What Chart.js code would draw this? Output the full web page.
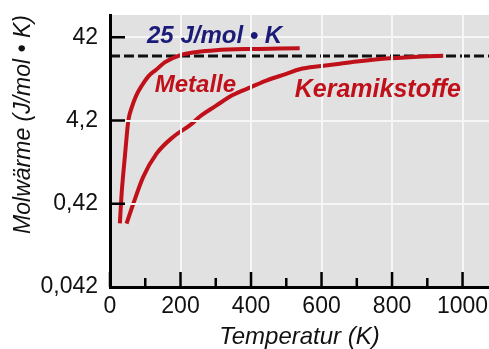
<!DOCTYPE html>
<html><head><meta charset="utf-8">
<script src="https://cdn.jsdelivr.net/npm/chart.js@4/dist/chart.umd.min.js"></script>
<style>html,body{margin:0;padding:0;background:#fff}#wrap{width:489px;height:349px}</style>
</head><body><div id="wrap"><canvas id="c" width="489" height="349"></canvas></div>
<script>
// ---- data ----
const metalleT = [28, 33, 38, 43, 52, 62, 75, 90, 110, 130, 155, 198, 246, 300, 400, 480, 538];
const metalleC = [0.245, 0.56, 1.0, 1.7, 4.2, 6.1, 8.5, 11, 14.5, 17, 21, 25.5, 28, 29.5, 30.5, 30.8, 31];
const keramikT = [47, 66, 94, 132, 179, 227, 255, 300, 348, 400, 445, 500, 538, 600, 652, 700, 793, 887, 945];
const keramikC = [0.243, 0.42, 0.88, 1.68, 2.67, 3.7, 4.7, 6.3, 8.5, 10.6, 12.8, 15.3, 17.4, 19, 20.3, 21.5, 23.5, 24.8, 25.2];
const limitT = [0, 1075];
const limitC = [25, 25];
const yTickValues = [0.042, 0.42, 4.2, 42];
const yTickLabels = ["0,042", "0,42", "4,2", "42"];
const xTickValues = [0, 200, 400, 600, 800, 1000];
const xTickLabels = ["0", "200", "400", "600", "800", "1000"];
const xMinorTickValues = [100, 300, 500, 700, 900];
const labelTexts = ["25 J/mol • K", "Metalle", "Keramikstoffe"];

// ---- styling / placement ----
const RED = '#c0101a';
const NAVY = '#1b1b78';
const FONT = "'Liberation Sans', Arial, Helvetica, sans-serif";
const labelPlacement = [
  {x: 105, y: 35.7, color: NAVY, size: 24},
  {x: 127, y: 9.2, color: RED, size: 24},
  {x: 524, y: 8.1, color: RED, size: 25}
];

const bgPlugin = {
  id: 'bg',
  beforeDraw(chart) {
    const {ctx, chartArea: a} = chart;
    ctx.save();
    ctx.fillStyle = '#e1e1e1';
    ctx.fillRect(a.left, a.top, a.right - a.left, a.bottom - a.top);
    ctx.restore();
  }
};
const tickPlugin = {
  id: 'inwardTicks',
  afterDraw(chart) {
    const {ctx, chartArea: a, scales: {x, y}} = chart;
    ctx.save();
    ctx.strokeStyle = '#000';
    ctx.lineWidth = 2.5;
    ctx.beginPath();
    yTickValues.forEach((v, i) => {
      if (i === 0) return;
      const py = y.getPixelForValue(v);
      ctx.moveTo(a.left, py); ctx.lineTo(a.left + 15, py);
    });
    xTickValues.forEach(v => {
      const px = x.getPixelForValue(v);
      ctx.moveTo(px, a.bottom); ctx.lineTo(px, a.bottom - 15);
    });
    xMinorTickValues.forEach(v => {
      const px = x.getPixelForValue(v);
      ctx.moveTo(px, a.bottom); ctx.lineTo(px, a.bottom - 9);
    });
    ctx.stroke();
    ctx.restore();
  }
};
const textPlugin = {
  id: 'texts',
  afterDraw(chart) {
    const {ctx, scales: {x, y}} = chart;
    ctx.save();
    ctx.textAlign = 'left';
    ctx.textBaseline = 'alphabetic';
    labelTexts.forEach((t, i) => {
      const p = labelPlacement[i];
      ctx.fillStyle = p.color;
      ctx.font = `italic bold ${p.size}px ${FONT}`;
      ctx.fillText(t, x.getPixelForValue(p.x), y.getPixelForValue(p.y));
    });
    ctx.restore();
  }
};

const pts = (xs, ys) => xs.map((v, i) => ({x: v, y: ys[i]}));

new Chart(document.getElementById('c'), {
  type: 'line',
  data: {
    datasets: [
      {label: labelTexts[1], data: pts(metalleT, metalleC), borderColor: RED, borderWidth: 4,
       pointRadius: 0, cubicInterpolationMode: 'monotone', fill: false},
      {label: labelTexts[2], data: pts(keramikT, keramikC), borderColor: RED, borderWidth: 4,
       pointRadius: 0, cubicInterpolationMode: 'monotone', fill: false},
      {label: labelTexts[0], data: pts(limitT, limitC), borderColor: '#111', borderWidth: 3,
       borderDash: [10, 4], pointRadius: 0, fill: false}
    ]
  },
  options: {
    responsive: false, animation: false, devicePixelRatio: 1,
    layout: {padding: {top: 15, left: 0, right: 0, bottom: 0}, autoPadding: false},
    plugins: {legend: {display: false}, tooltip: {enabled: false}},
    scales: {
      x: {
        type: 'linear', min: 0, max: 1075,
        afterBuildTicks: s => { s.ticks = xTickValues.map(v => ({value: v})); },
        afterFit: s => { s.height = 62; s.paddingLeft = 0; s.paddingRight = 0; },
        ticks: {autoSkip: false, maxRotation: 0, padding: 6, color: '#111',
                font: {family: FONT, size: 23}, callback: (v, i) => xTickLabels[i]},
        grid: {color: '#f6f6f6', lineWidth: 2, drawTicks: false, z: 1},
        border: {color: '#000', width: 3, z: 2},
        title: {display: true, text: 'Temperatur (K)', color: '#111', padding: 0,
                font: {family: FONT, size: 24, style: 'italic', lineHeight: 1}}
      },
      y: {
        type: 'logarithmic', min: 0.042, max: 78,
        afterBuildTicks: s => { s.ticks = yTickValues.map(v => ({value: v})); },
        afterFit: s => { s.width = 110; s.paddingTop = 0; s.paddingBottom = 0; },
        ticks: {autoSkip: false, padding: 12, color: '#111',
                font: {family: FONT, size: 23}, callback: (v, i) => yTickLabels[i]},
        grid: {color: '#f6f6f6', lineWidth: 2, drawTicks: false, z: 1},
        border: {color: '#000', width: 3, z: 2},
        title: {display: true, text: 'Molwärme (J/mol • K)', align: 'end', color: '#111',
                padding: {top: 10, bottom: 0},
                font: {family: FONT, size: 23, style: 'italic', lineHeight: 1.2}}
      }
    }
  },
  plugins: [bgPlugin, tickPlugin, textPlugin]
});
</script>
</body></html>
